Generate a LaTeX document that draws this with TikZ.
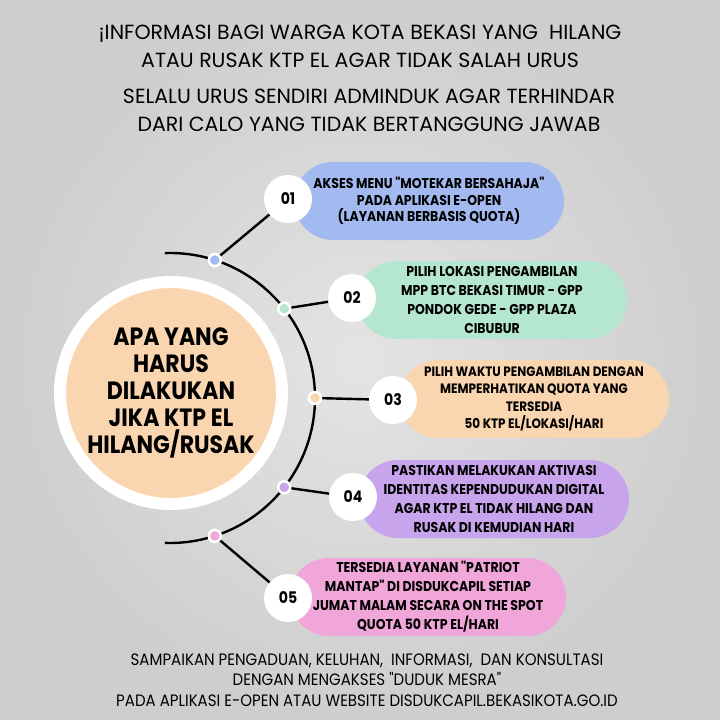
\documentclass[tikz,border=0pt]{standalone}
\usepackage{fontspec}
\setmainfont{Poppins}
\newfontfamily\footfont[FakeStretch=0.91]{Poppins}
\newfontfamily\pillfont[FakeStretch=0.88]{Poppins}
\usetikzlibrary{positioning}
\usetikzlibrary{shapes.misc}
\usetikzlibrary{calc}

\definecolor{bgGray}{RGB}{206,206,206}
\definecolor{bgLight}{RGB}{228,228,228}
\definecolor{stepBlue}{RGB}{163,186,240}
\definecolor{stepGreen}{RGB}{180,230,208}
\definecolor{stepPeach}{RGB}{250,214,176}
\definecolor{stepLilac}{RGB}{200,164,236}
\definecolor{stepPink}{RGB}{240,166,216}

\begin{document}
\begin{tikzpicture}[
    x = 1pt, y = -1pt,
    pill/.style = {
      rounded rectangle, minimum width = 270pt, minimum height = 78pt,
      inner sep = 0pt, align = center,
      font = \pillfont\bfseries\fontsize{14.2}{19}\selectfont
    },
    numdisc/.style = {
      circle, fill = white, minimum size = 48pt, inner sep = 0pt,
      font = \pillfont\bfseries\fontsize{16}{16}\selectfont
    },
    knot/.style = {
      circle, draw = white, line width = 2.5pt,
      minimum size = 12pt, inner sep = 0pt
    },
    link/.style = { line width = 2.4pt, black },
    heading/.style = { align = center, font = \fontsize{20.5}{28}\selectfont },
  ]

  \useasboundingbox (0,0) rectangle (720,720);
  \shade[inner color = bgLight, outer color = bgGray] (0,0) rectangle (720,720);

  % titles
  \node[heading] (head1) at (360,46) {¡INFORMASI BAGI WARGA KOTA BEKASI YANG\ \ HILANG\\ATAU RUSAK KTP EL AGAR TIDAK SALAH URUS};
  \node[heading] (head2) at (369,110) {SELALU URUS SENDIRI ADMINDUK AGAR TERHINDAR\\DARI CALO YANG TIDAK BERTANGGUNG JAWAB};

  % steps
  \node[pill, fill = stepBlue, font = \pillfont\bfseries\fontsize{14.2}{16.8}\selectfont] (pill1) at (429,201) {AKSES MENU "MOTEKAR BERSAHAJA"\\PADA APLIKASI E-OPEN\\(LAYANAN BERBASIS QUOTA)};
  \node[pill, fill = stepGreen] (pill2) at (492,300) {PILIH LOKASI PENGAMBILAN\\MPP BTC BEKASI TIMUR - GPP\\PONDOK GEDE - GPP PLAZA\\CIBUBUR};
  \node[pill, fill = stepPeach, font = \pillfont\bfseries\fontsize{13.6}{17.6}\selectfont] (pill3) at (534,399) {PILIH WAKTU PENGAMBILAN DENGAN\\MEMPERHATIKAN QUOTA YANG\\TERSEDIA\\50 KTP EL/LOKASI/HARI};
  \node[pill, fill = stepLilac] (pill4) at (494,499) {PASTIKAN MELAKUKAN AKTIVASI\\IDENTITAS KEPENDUDUKAN DIGITAL\\AGAR KTP EL TIDAK HILANG DAN\\RUSAK DI KEMUDIAN HARI};
  \node[pill, fill = stepPink] (pill5) at (428,597) {TERSEDIA LAYANAN "PATRIOT\\MANTAP" DI DISDUKCAPIL SETIAP\\JUMAT MALAM SECARA ON THE SPOT\\QUOTA 50 KTP EL/HARI};

  \foreach \p/\n in {{288,199}/01, {352,298}/02, {393,400}/03, {353,497}/04, {288,598}/05} {
    \node[numdisc] (num\n) at (\p) {\n};
  }

  % centre disc and arc
  \coordinate (hub) at (170,398);
  \node[circle, fill = stepPeach, draw = white, line width = 12pt, minimum size = 222pt,
        align = center, font = \pillfont\bfseries\fontsize{25}{27}\selectfont] (centre) at (171,393)
        {APA YANG\\HARUS\\DILAKUKAN\\JIKA KTP EL\\HILANG/RUSAK};
  \draw[line width = 2.4pt] ($(hub)+(-92:145)$) arc[start angle = -92, end angle = 92, radius = 145];

  \foreach \a/\n/\c in {-72/01/stepBlue, -38/02/stepGreen, 0/03/stepPeach, 38/04/stepLilac, 72/05/stepPink} {
    \coordinate (d\n) at ($(hub)+(\a:145)$);
    \draw[link] (d\n) -- (num\n);
    \node[knot, fill = \c] (dot\n) at (d\n) {};
  }

  % footer
  \node[align = center, font = \footfont\fontsize{16.5}{20.5}\selectfont] (foot) at (367,680)
    {SAMPAIKAN PENGADUAN, KELUHAN,\ \ INFORMASI,\ \ DAN KONSULTASI\\DENGAN MENGAKSES "DUDUK MESRA"\\PADA APLIKASI E-OPEN ATAU WEBSITE DISDUKCAPIL.BEKASIKOTA.GO.ID};
\end{tikzpicture}
\end{document}
